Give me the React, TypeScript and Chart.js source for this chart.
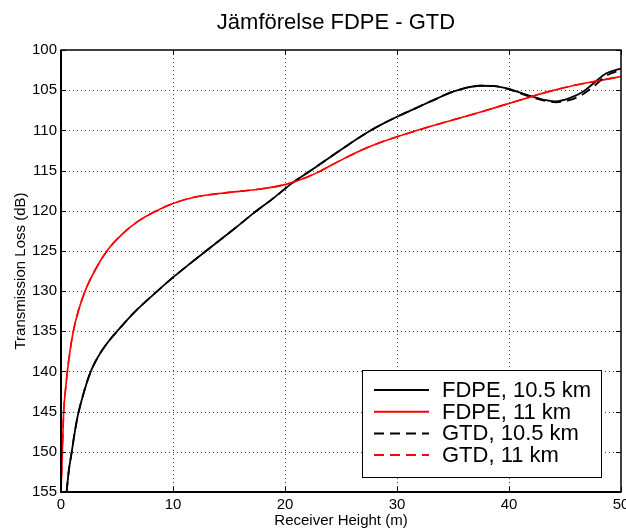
import { useEffect, useRef } from 'react';
import { Chart, registerables } from 'chart.js';

Chart.register(...registerables);

const FONT = '"Liberation Sans", Arial, Helvetica, sans-serif';

const chartTitle = 'Jämförelse FDPE - GTD';
const xAxisTitle = 'Receiver Height (m)';
const yAxisTitle = 'Transmission Loss (dB)';
const seriesLabels = ['FDPE, 10.5 km', 'FDPE, 11 km', 'GTD, 10.5 km', 'GTD, 11 km'];

// Receiver heights (m) sampled for the 10.5 km range
const heights105 = [
  0.5, 0.7, 0.96, 1.2, 1.5, 2.0, 2.6, 3.3, 4.0, 5.2, 6.5, 8.6, 10, 11.5, 13, 15.25,
  17.2, 19, 20.7, 22.3, 25, 27.3, 28.5, 30, 31.5, 33, 34.5, 35.9, 37.4, 38.7, 40, 41,
  42, 43.3, 44.2, 45.4, 46.6, 47.5, 48.7, 50,
];
// Transmission loss (dB), FDPE at 10.5 km
const fdpe105 = [
  155, 152.3, 150, 147.8, 145.5, 142.8, 140.2, 138.2, 136.7, 134.7, 132.7, 130.0, 128.3, 126.6, 124.95, 122.5,
  120.3, 118.4, 116.5, 115.0, 112.4, 110.3, 109.35, 108.3, 107.35, 106.4, 105.45, 104.8, 104.45, 104.5, 104.85, 105.3,
  105.75, 106.25, 106.4, 106.0, 105.2, 104.2, 102.9, 102.3,
];
// Transmission loss (dB), GTD at 10.5 km
const gtd105 = [
  155, 152.3, 150, 147.8, 145.5, 142.8, 140.2, 138.2, 136.7, 134.7, 132.7, 130.0, 128.3, 126.6, 124.95, 122.5,
  120.3, 118.4, 116.5, 115.0, 112.4, 110.3, 109.35, 108.3, 107.35, 106.4, 105.45, 104.8, 104.45, 104.5, 104.9, 105.4,
  105.85, 106.35, 106.5, 106.25, 105.5, 104.6, 103.2, 102.5,
];

// Receiver heights (m) sampled for the 11 km range
const heights11 = [
  0, 0.12, 0.24, 0.4, 0.57, 0.8, 1.1, 1.5, 2.15, 3, 4.1, 5.4, 6.9, 8.4, 10, 11.8,
  14.8, 17.8, 20, 20.7, 22, 23.1, 25, 27, 28.5, 30, 33, 35.9, 37.4, 40, 42, 43.6,
  45.5, 47.7, 50,
];
// Transmission loss (dB), FDPE at 11 km
const fdpe11 = [
  155, 150, 145, 142.3, 140, 137.5, 135, 132.7, 130, 127.5, 125, 123.0, 121.3, 120.1, 119.1, 118.35,
  117.75, 117.3, 116.75, 116.45, 115.8, 115.1, 113.7, 112.35, 111.5, 110.8, 109.5, 108.35, 107.75, 106.65, 105.8, 105.15,
  104.5, 103.9, 103.3,
];
// Transmission loss (dB), GTD at 11 km
const gtd11 = [
  155, 150, 145, 142.3, 140, 137.5, 135, 132.7, 130, 127.5, 125, 123.0, 121.3, 120.1, 119.1, 118.35,
  117.75, 117.3, 116.75, 116.45, 115.8, 115.1, 113.7, 112.35, 111.5, 110.8, 109.5, 108.35, 107.75, 106.65, 105.8, 105.15,
  104.5, 103.9, 103.3,
];

const xTicks = [0, 10, 20, 30, 40, 50];
const yTicks = [100, 105, 110, 115, 120, 125, 130, 135, 140, 145, 150, 155];

const seriesColors = ['#000000', '#ff0000', '#000000', '#ff0000'];
const seriesDash: number[][] = [[], [], [10, 6], [10, 6]];
const seriesWidth = [1.8, 1.6, 1.8, 1.6];

const toPoints = (xs: number[], ys: number[]) => xs.map((x, i) => ({ x, y: ys[i] }));

// Dotted grid at every tick, drawn beneath the curves
const dottedGrid = {
  id: 'dottedGrid',
  beforeDatasetsDraw(chart: any) {
    const { ctx, chartArea: a, scales } = chart;
    ctx.save();
    ctx.strokeStyle = 'rgba(0,0,0,0.75)';
    ctx.lineWidth = 1;
    ctx.setLineDash([1, 3]);
    ctx.beginPath();
    xTicks.slice(1, -1).forEach((v) => {
      const px = Math.round(scales.x.getPixelForValue(v)) + 0.5;
      ctx.moveTo(px, a.top);
      ctx.lineTo(px, a.bottom);
    });
    yTicks.slice(1, -1).forEach((v) => {
      const py = Math.round(scales.y.getPixelForValue(v)) + 0.5;
      ctx.moveTo(a.left, py);
      ctx.lineTo(a.right, py);
    });
    ctx.stroke();
    ctx.restore();
  },
};

// Axes frame with inward tick marks, the title and the boxed legend
const decorations = {
  id: 'decorations',
  afterDraw(chart: any) {
    const { ctx, chartArea: a, scales } = chart;
    const xs = scales.x;
    const ys = scales.y;
    ctx.save();

    // inward tick marks on all four sides
    ctx.strokeStyle = '#000';
    ctx.lineWidth = 1;
    ctx.beginPath();
    const tl = 5;
    xTicks.forEach((v) => {
      const px = Math.round(xs.getPixelForValue(v)) + 0.5;
      ctx.moveTo(px, a.bottom);
      ctx.lineTo(px, a.bottom - tl);
      ctx.moveTo(px, a.top);
      ctx.lineTo(px, a.top + tl);
    });
    yTicks.forEach((v) => {
      const py = Math.round(ys.getPixelForValue(v)) + 0.5;
      ctx.moveTo(a.left, py);
      ctx.lineTo(a.left + tl, py);
      ctx.moveTo(a.right, py);
      ctx.lineTo(a.right - tl, py);
    });
    ctx.stroke();

    // frame
    ctx.lineWidth = 1.5;
    ctx.strokeRect(a.left, a.top, a.right - a.left, a.bottom - a.top);
    ctx.lineWidth = 2;
    ctx.beginPath();
    ctx.moveTo(a.left, a.top);
    ctx.lineTo(a.left, a.bottom);
    ctx.lineTo(a.right, a.bottom);
    ctx.stroke();

    // title
    ctx.fillStyle = '#000';
    ctx.font = `22px ${FONT}`;
    ctx.textAlign = 'center';
    ctx.textBaseline = 'alphabetic';
    ctx.fillText(chartTitle, (a.left + a.right) / 2 - 5, 29);

    // legend box
    const bx = a.right - 259;
    const by = a.bottom - 122;
    const bw = 239;
    const bh = 107;
    ctx.fillStyle = '#fff';
    ctx.fillRect(bx, by, bw, bh);
    ctx.strokeStyle = '#000';
    ctx.lineWidth = 1;
    ctx.strokeRect(bx + 0.5, by + 0.5, bw, bh);

    ctx.font = `22px ${FONT}`;
    ctx.textAlign = 'left';
    ctx.textBaseline = 'middle';
    chart.data.datasets.forEach((ds: any, i: number) => {
      const ry = by + 20 + i * 21.7;
      ctx.beginPath();
      ctx.strokeStyle = ds.borderColor;
      ctx.lineWidth = 2;
      ctx.setLineDash(ds.borderDash || []);
      ctx.moveTo(bx + 12, ry);
      ctx.lineTo(bx + 67, ry);
      ctx.stroke();
      ctx.setLineDash([]);
      ctx.fillStyle = '#000';
      ctx.fillText(ds.label, bx + 80, ry + 1);
    });

    ctx.restore();
  },
};

export default function App() {
  const canvasRef = useRef<HTMLCanvasElement | null>(null);

  useEffect(() => {
    const canvas = canvasRef.current;
    if (!canvas) return;

    const seriesPoints = [
      toPoints(heights105, fdpe105),
      toPoints(heights11, fdpe11),
      toPoints(heights105, gtd105),
      toPoints(heights11, gtd11),
    ];

    const chart = new Chart(canvas, {
      type: 'line',
      data: {
        datasets: seriesLabels.map((label, i) => ({
          label,
          data: seriesPoints[i],
          borderColor: seriesColors[i],
          backgroundColor: seriesColors[i],
          borderWidth: seriesWidth[i],
          borderDash: seriesDash[i],
          pointRadius: 0,
          cubicInterpolationMode: 'monotone' as const,
          fill: false,
          order: 4 - i,
        })),
      },
      options: {
        responsive: false,
        animation: false,
        devicePixelRatio: 1,
        layout: { padding: { top: 50, right: 5, left: 0, bottom: 0 } },
        plugins: {
          legend: { display: false },
          title: { display: false },
          tooltip: { enabled: false },
        },
        scales: {
          x: {
            type: 'linear',
            min: 0,
            max: 50,
            afterBuildTicks: (s: any) => {
              s.ticks = xTicks.map((v) => ({ value: v }));
            },
            afterFit: (s: any) => {
              s.height = 37;
              s.paddingLeft = 0;
              s.paddingRight = 0;
            },
            ticks: {
              color: '#000',
              font: { family: FONT, size: 15 },
              padding: 4,
              maxRotation: 0,
            },
            grid: { display: false, drawTicks: false, tickLength: 0 },
            border: { display: false },
            title: {
              display: true,
              text: xAxisTitle,
              color: '#000',
              font: { family: FONT, size: 15 },
              padding: { top: 0, bottom: -1 },
            },
          },
          y: {
            type: 'linear',
            reverse: true,
            min: 100,
            max: 155,
            afterBuildTicks: (s: any) => {
              s.ticks = yTicks.map((v) => ({ value: v }));
            },
            afterFit: (s: any) => {
              s.width = 61;
              s.paddingTop = 0;
              s.paddingBottom = 0;
            },
            ticks: {
              color: '#000',
              font: { family: FONT, size: 15 },
              padding: 4,
            },
            grid: { display: false, drawTicks: false, tickLength: 0 },
            border: { display: false },
            title: {
              display: true,
              text: yAxisTitle,
              color: '#000',
              font: { family: FONT, size: 15 },
              padding: { top: 12, bottom: 0 },
            },
          },
        },
      },
      plugins: [dottedGrid, decorations],
    });

    return () => chart.destroy();
  }, []);

  return (
    <div style={{ position: 'fixed', left: 0, top: 0, width: 626, height: 529, background: '#fff' }}>
      <canvas ref={canvasRef} width={626} height={529} style={{ display: 'block' }} />
    </div>
  );
}
